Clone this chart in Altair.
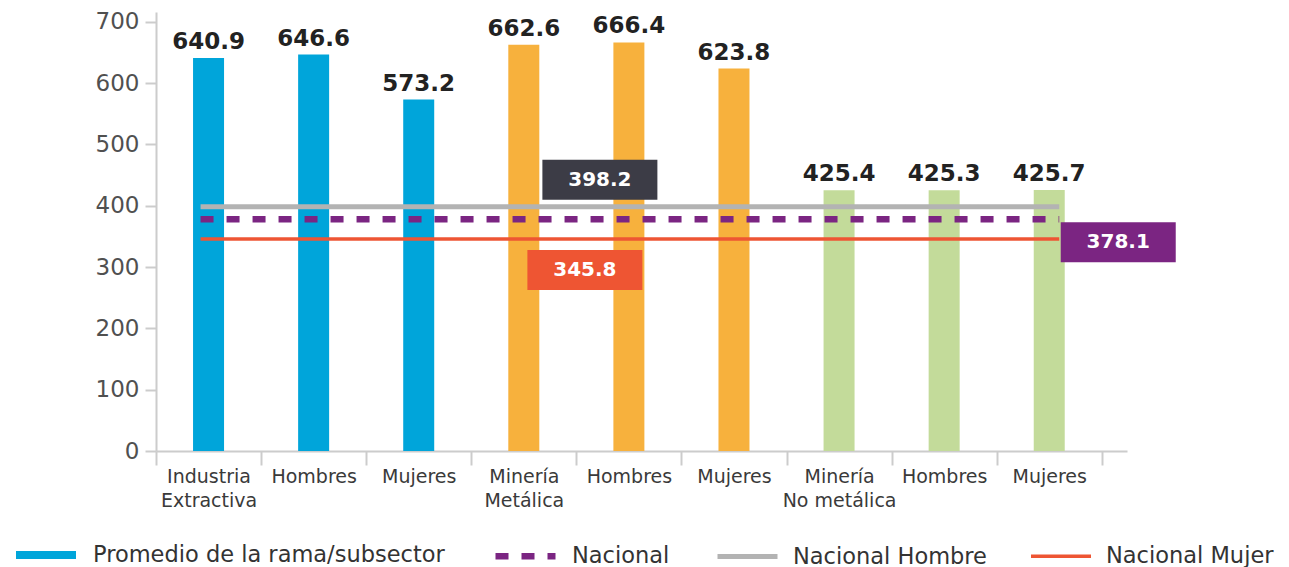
import json
import altair as alt
import pandas as pd

# ---- data ----
cat_labels = [
    ["Industria", "Extractiva"], ["Hombres"], ["Mujeres"],
    ["Minería", "Metálica"], ["Hombres"], ["Mujeres"],
    ["Minería", "No metálica"], ["Hombres"], ["Mujeres"],
]
bar_values = [640.9, 646.6, 573.2, 662.6, 666.4, 623.8, 425.4, 425.3, 425.7]
bar_groups = ["Industria", "Industria", "Industria",
              "Metálica", "Metálica", "Metálica",
              "No metálica", "No metálica", "No metálica"]

ref_names = ["Nacional", "Nacional Hombre", "Nacional Mujer"]
ref_values = [378.1, 398.2, 345.8]

legend_names = ["Promedio de la rama/subsector", "Nacional", "Nacional Hombre", "Nacional Mujer"]

# ---- styles ----
group_colors = {"Industria": "#00A5DA", "Metálica": "#F7B13D", "No metálica": "#C3DB9A"}
legend_colors = ["#00A5DA", "#7B2582", "#B3B3B3", "#EE5533"]
legend_dash = [[1, 0], [13, 13], [1, 0], [1, 0]]
legend_widths = [8, 3.5, 3.5, 3.5]
box_colors = {"Nacional": "#7B2582", "Nacional Hombre": "#3C3C46", "Nacional Mujer": "#EE5533"}
# anchor band index, x offset px, y offset px
box_pos = {"Nacional": (8, 69, 23), "Nacional Hombre": (4, -29, -27), "Nacional Mujer": (4, -44, 31)}

FONT = "DejaVu Sans"
W, H = 971, 439

n = len(bar_values)
bars = pd.DataFrame({
    "idx": list(range(n)),
    "value": bar_values,
    "fill": [group_colors[g] for g in bar_groups],
    "label": [f"{v:.1f}" for v in bar_values],
})
lines = pd.DataFrame({
    "serie": ref_names,
    "value": ref_values,
    "start": [0] * len(ref_names),
    "end": [n - 1] * len(ref_names),
})

label_expr = json.dumps(cat_labels) + "[datum.value]"

xscale = alt.Scale(paddingInner=0, paddingOuter=0.12, align=0)
yscale = alt.Scale(domain=[0, 716], nice=False)

x_enc = alt.X("idx:O", scale=xscale, title=None,
              axis=alt.Axis(labelExpr=label_expr, labelAngle=0, tickBand="extent",
                            labelFont=FONT, labelFontSize=19, labelColor="#3a3a3a",
                            labelLineHeight=24, labelPadding=2, domainColor="#cccccc",
                            domainWidth=2, tickColor="#cccccc", tickWidth=2, tickSize=14,
                            labelBaseline="top"))
y_enc = alt.Y("value:Q", scale=yscale, title=None,
              axis=alt.Axis(values=[0, 100, 200, 300, 400, 500, 600, 700], grid=False,
                            labelFont=FONT, labelFontSize=23, labelColor="#505050",
                            labelPadding=6, domainColor="#cccccc", domainWidth=2,
                            tickColor="#cccccc", tickWidth=2, tickSize=11))

bar_layer = alt.Chart(bars).mark_bar(width=31).encode(
    x=x_enc, y=y_enc, fill=alt.Fill("fill:N", scale=None, legend=None)
)
text_layer = alt.Chart(bars).mark_text(
    baseline="bottom", dy=-4, font=FONT, fontSize=23, fontWeight="bold", color="#222222"
).encode(x="idx:O", y="value:Q", text="label:N")

leg = alt.Legend(orient="none", legendX=-144, legendY=509, direction="horizontal",
                 title=None, symbolType="stroke", symbolSize=3600, labelFont=FONT,
                 labelFontSize=22.5, labelColor="#333333", columnPadding=37,
                 labelOffset=13, symbolStrokeWidth=3, labelLimit=600)
line_layer = alt.Chart(lines).mark_rule(xOffset=-8, x2Offset=10).encode(
    x="start:O", x2="end:O", y="value:Q",
    color=alt.Color("serie:N", scale=alt.Scale(domain=legend_names, range=legend_colors), legend=leg),
    strokeDash=alt.StrokeDash("serie:N", scale=alt.Scale(domain=legend_names, range=legend_dash), legend=leg),
    strokeWidth=alt.StrokeWidth("serie:N", scale=alt.Scale(domain=legend_names, range=legend_widths), legend=leg),
)

layers = [bar_layer, line_layer, text_layer]
for name, val in zip(ref_names, ref_values):
    bi, dx, dy = box_pos[name]
    d = pd.DataFrame({"idx": [bi], "value": [val], "label": [f"{val:.1f}"]})
    box = alt.Chart(d).mark_point(
        shape="M-1,-0.3478H1V0.3478H-1Z", size=115 * 115, filled=True, opacity=1,
        color=box_colors[name], xOffset=dx, yOffset=dy, strokeWidth=0
    ).encode(x="idx:O", y="value:Q")
    txt = alt.Chart(d).mark_text(
        font=FONT, fontSize=20, fontWeight="bold", color="white",
        xOffset=dx, yOffset=dy, baseline="middle"
    ).encode(x="idx:O", y="value:Q", text="label:N")
    layers += [box, txt]

chart = alt.layer(*layers).properties(
    width=W, height=H,
    autosize=alt.AutoSizeParams(type="none"),
    padding={"left": 148, "top": 4, "right": 153, "bottom": 122},
).configure_view(stroke=None)

chart.save("out.html", embed_options={"renderer": "svg", "actions": False})
